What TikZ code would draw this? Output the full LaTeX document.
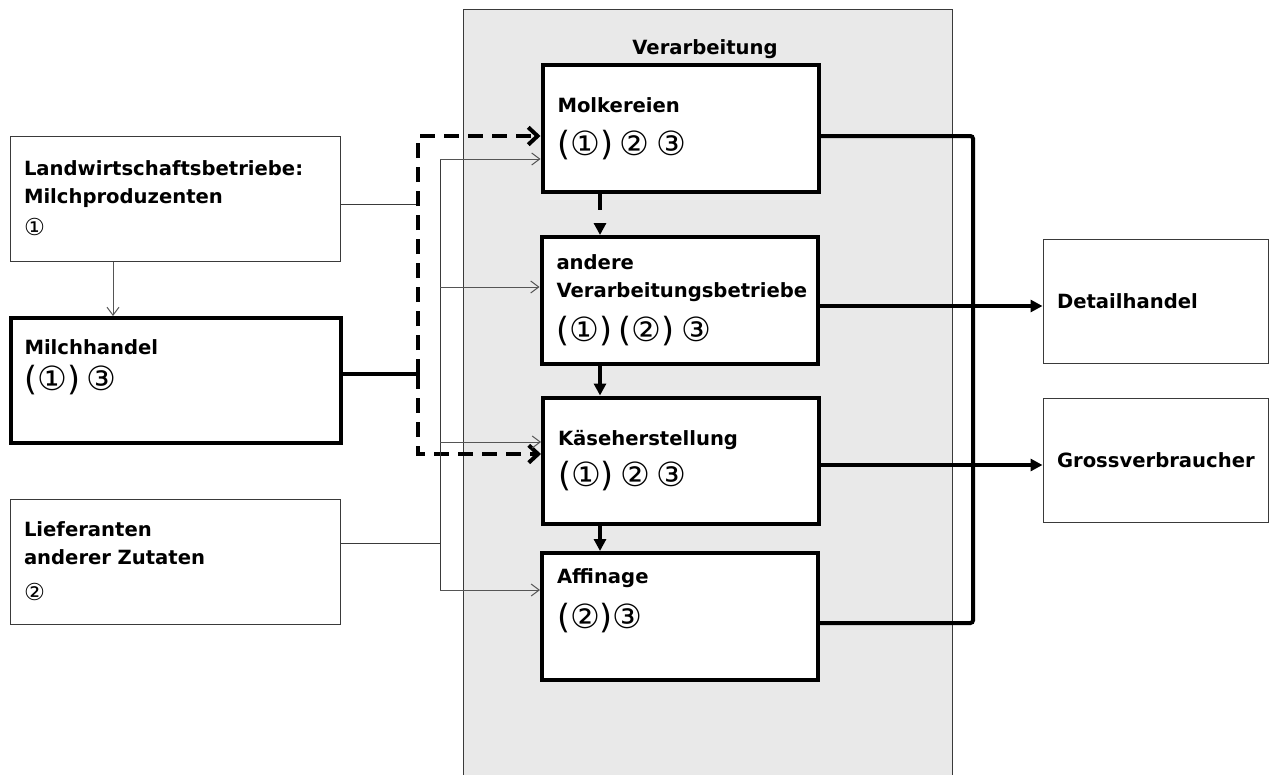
\documentclass[tikz,border=0pt]{standalone}
\usepackage{fontspec}
\setmainfont{DejaVu Sans}
\usetikzlibrary{arrows.meta}
\definecolor{panelgray}{HTML}{E9E9E9}
\definecolor{linegray}{HTML}{3A3A3A}
\definecolor{arrowgray}{HTML}{555555}
\newcommand{\circline}{\mdseries\fontsize{25}{29}\selectfont}
\newcommand{\circsmall}{\mdseries\fontsize{17.5}{20}\selectfont}
\tikzset{
	base/.style={rectangle,draw,fill=white,align=left,font=\bfseries\fontsize{14.7}{21}\selectfont},
	sidebox/.style={base,draw=linegray,line width=0.75pt,minimum width=247.5pt,text width=226.5pt,inner xsep=10.5pt,minimum height=93.75pt},
	tradebox/.style={sidebox,draw=black,line width=3pt},
	procbox/.style={base,line width=3pt,minimum width=207pt,text width=184.5pt,inner xsep=11.25pt,minimum height=94.5pt},
	outbox/.style={base,draw=linegray,line width=0.75pt,minimum width=168.75pt,text width=147.75pt,inner xsep=10.5pt,minimum height=93pt},
	thinline/.style={draw=linegray,line width=0.75pt},
	thinarrow/.style={draw=arrowgray,line width=0.75pt,-{Straight Barb[length=6pt,width=9pt]}},
	thickline/.style={line width=3pt},
	thickarrow/.style={thickline,-{Triangle[length=9pt,width=9pt]}},
	dasharrow/.style={thickline,dash pattern=on 11pt off 7pt,-{Straight Barb[length=7pt,width=13pt]}},
	dashvert/.style={thickline,dash pattern=on 12pt off 16pt,-{Triangle[length=9pt,width=9pt]}}
}
\begin{document}
\begin{tikzpicture}[x=0.75pt,y=-0.75pt]
	\useasboundingbox (0,0) rectangle (1269,774);
	% Verarbeitung panel
	\path[fill=panelgray,draw=linegray,line width=0.75pt] (463,10) rectangle (952,800);
	\node[font=\bfseries\fontsize{14.7}{18}\selectfont] (verarb) at (705,49) {Verarbeitung};

	\node[sidebox] (landw) at (175,198.5) {Landwirtschaftsbetriebe:\\Milchproduzenten\\[3pt]{\circsmall ①}};
	\node[tradebox] (milch) at (175.5,380.5) {Milchhandel\\[6pt]{\circline (①) ③}\\[2pt]\mbox{}};
	\node[sidebox] (liefer) at (175,561.5) {Lieferanten\\anderer Zutaten\\[6pt]{\circsmall ②}};

	\node[procbox] (molk) at (680.5,128.5) {Molkereien\\[11pt]{\circline (①) ② ③}};
	\node[procbox,minimum height=95.25pt] (andere) at (679.5,300.5) {andere\\Verarbeitungsbetriebe\\[10pt]{\circline (①) (②) ③}};
	\node[procbox] (kaese) at (681,460.5) {Käseherstellung\\[8pt]{\circline (①) ② ③}};
	\node[procbox,minimum height=95.25pt] (affin) at (680,616.5) {Affinage\\[10pt]{\circline (②)③}\\[6pt]\mbox{}};

	\node[outbox] (detail) at (1155.5,301) {Detailhandel};
	\node[outbox] (gross) at (1155.5,460) {Grossverbraucher};

	\coordinate (landjoin) at (418,204);
	\coordinate (milchjoin) at (418,374);
	\coordinate (dashtop) at (418,136);
	\coordinate (dashbot) at (418,454);
	\coordinate (feedtop) at (440,159);
	\coordinate (feedbot) at (440,590);
	\coordinate (liefjoin) at (440,543);
	\coordinate (outtop) at (973,136);
	\coordinate (outbot) at (973,623);

	% inputs
	\draw[thinarrow] (landw.south -| 113,0) -- (milch.north -| 113,0);
	\draw[thinline] (landw.east |- landjoin) -- (landjoin);
	\draw[thickline] (milch.east |- milchjoin) -- (milchjoin);
	\draw[dasharrow] (milchjoin) -- (dashtop) -- (molk.west |- dashtop);
	\draw[dasharrow] (milchjoin) -- (dashbot) -- (kaese.west |- dashbot);
	\draw[thinline] (liefer.east |- liefjoin) -- (liefjoin);
	\draw[thinline] (feedtop) -- (feedbot);
	\foreach \n/\y in {molk/159,andere/287,kaese/442,affin/590}
		\draw[thinarrow] (440,\y) -- (\n.west |- 440,\y);

	% inside Verarbeitung
	\draw[dashvert] (molk.south -| 600,0) -- (andere.north -| 600,0);
	\draw[thickarrow] (andere.south -| 600,0) -- (kaese.north -| 600,0);
	\draw[thickarrow] (kaese.south -| 600,0) -- (affin.north -| 600,0);

	% outputs
	\draw[thickline,rounded corners=2pt] (molk.east |- outtop) -- (outtop) -- (outbot) -- (affin.east |- outbot);
	\draw[thickarrow] (andere.east |- 0,306) -- (detail.west |- 0,306);
	\draw[thickarrow] (kaese.east |- 0,465) -- (gross.west |- 0,465);
\end{tikzpicture}
\end{document}
